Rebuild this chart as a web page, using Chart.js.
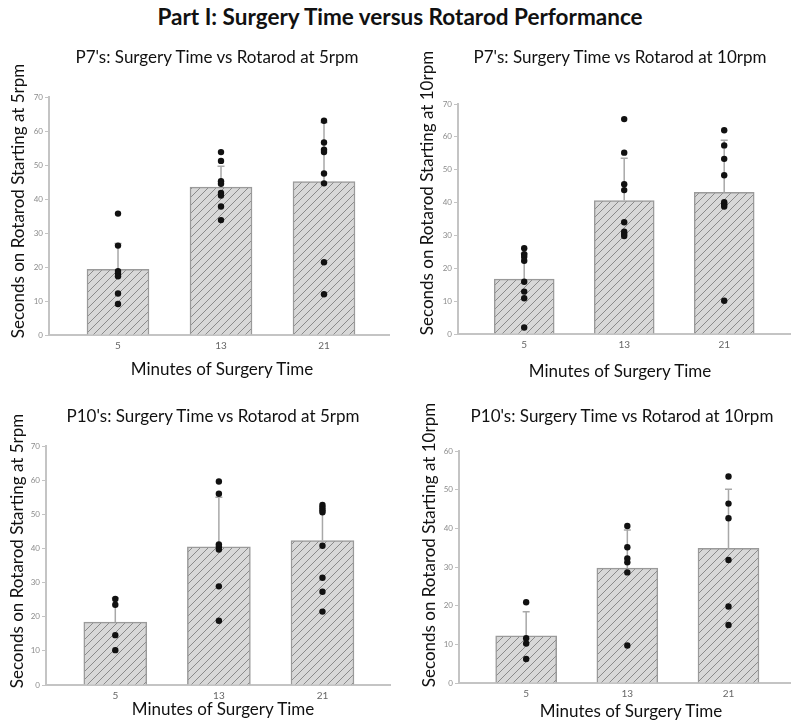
<!DOCTYPE html>
<html>
<head>
<meta charset="utf-8">
<script src="https://cdn.jsdelivr.net/npm/chart.js@4.4.1/dist/chart.umd.min.js"></script>
<style>
  html, body { margin: 0; padding: 0; background: #fff; }
  body { width: 800px; height: 726px; position: relative; overflow: hidden; font-family: Lato, "Open Sans", sans-serif; }
  canvas { position: absolute; }
  .txt { position: absolute; white-space: nowrap; color: #111; line-height: 1; transform: translate(-50%, -50%); }
  .main { font-weight: bold; font-size: 22.5px; }
  .sub { font-size: 17px; }
  .axt { font-size: 17px; }
  .rot { transform: translate(-50%, -50%) rotate(-90deg); }
</style>
</head>
<body>
<div class="txt main" style="left:400px; top:17px;">Part I: Surgery Time versus Rotarod Performance</div>

<canvas id="p7r5" width="400" height="320" style="left:0; top:60px;"></canvas>
<canvas id="p7r10" width="400" height="320" style="left:400px; top:60px;"></canvas>
<canvas id="p10r5" width="400" height="306" style="left:0; top:420px;"></canvas>
<canvas id="p10r10" width="400" height="306" style="left:400px; top:420px;"></canvas>

<div class="txt sub" style="left:217px; top:56px;">P7's: Surgery Time vs Rotarod at 5rpm</div>
<div class="txt sub" style="left:620px; top:56px;">P7's: Surgery Time vs Rotarod at 10rpm</div>
<div class="txt sub" style="left:213px; top:415px;">P10's: Surgery Time vs Rotarod at 5rpm</div>
<div class="txt sub" style="left:622px; top:415px;">P10's: Surgery Time vs Rotarod at 10rpm</div>

<div class="txt axt rot" style="left:17px; top:201px;">Seconds on Rotarod Starting at 5rpm</div>
<div class="txt axt rot" style="left:426px; top:193px;">Seconds on Rotarod Starting at 10rpm</div>
<div class="txt axt rot" style="left:16px; top:551px;">Seconds on Rotarod Starting at 5rpm</div>
<div class="txt axt rot" style="left:428px; top:545px;">Seconds on Rotarod Starting at 10rpm</div>

<div class="txt axt" style="left:222px; top:368px;">Minutes of Surgery Time</div>
<div class="txt axt" style="left:620px; top:370px;">Minutes of Surgery Time</div>
<div class="txt axt" style="left:223px; top:708px;">Minutes of Surgery Time</div>
<div class="txt axt" style="left:631px; top:710px;">Minutes of Surgery Time</div>

<script>
const minutes = ['5', '13', '21'];

// P7's, 5rpm
const p7Rpm5Means = [19.3, 43.5, 45.1];
const p7Rpm5Upper = [26.9, 49.6, 62.5];
const p7Rpm5Points = [
    [35.7, 26.3, 18.8, 18.1, 17.3, 12.2, 9.1],
    [53.8, 51.2, 45.2, 44.5, 41.8, 41.0, 37.8, 33.8],
    [63.0, 56.6, 54.5, 53.8, 47.5, 44.6, 21.4, 12.0]
];

// P7's, 10rpm
const p7Rpm10Means = [16.7, 40.6, 43.1];
const p7Rpm10Upper = [24.5, 53.5, 59.0];
const p7Rpm10Points = [
    [26.1, 24.3, 23.5, 22.3, 15.9, 12.9, 10.9, 2.0],
    [65.4, 55.2, 45.6, 43.8, 34.0, 31.1, 30.4, 29.8],
    [62.0, 57.4, 53.3, 48.3, 40.1, 39.5, 38.8, 10.1]
];

// P10's, 5rpm
const p10Rpm5Means = [18.4, 40.5, 42.3];
const p10Rpm5Upper = [25.5, 55.0, 51.0];
const p10Rpm5Points = [
    [25.2, 23.5, 14.6, 10.2],
    [59.6, 56.0, 41.2, 40.5, 39.7, 28.9, 18.8],
    [52.7, 52.0, 51.3, 50.6, 40.8, 31.4, 27.3, 21.5]
];

// P10's, 10rpm
const p10Rpm10Means = [12.2, 29.7, 34.8];
const p10Rpm10Upper = [18.4, 39.6, 50.1];
const p10Rpm10Points = [
    [20.9, 11.6, 10.2, 6.2],
    [40.6, 35.1, 32.2, 31.2, 28.6, 9.7],
    [53.4, 46.4, 42.6, 31.8, 19.8, 15.0]
];

const yMaxP7 = 70;
const yMaxP10Rpm10 = 60;

function hatchPattern() {
    const c = document.createElement('canvas');
    c.width = 8; c.height = 8;
    const g = c.getContext('2d');
    g.fillStyle = '#d8d8d8';
    g.fillRect(0, 0, 8, 8);
    g.strokeStyle = '#8a8a8a';
    g.lineWidth = 1;
    g.beginPath();
    g.moveTo(0, 8); g.lineTo(8, 0);
    g.moveTo(-1, 1); g.lineTo(1, -1);
    g.moveTo(7, 9); g.lineTo(9, 7);
    g.stroke();
    return g.createPattern(c, 'repeat');
}

// upper error bar drawn behind the dots
const errorBars = {
    id: 'errorBars',
    afterDatasetDraw(chart, args, opts) {
        if (args.index !== 0) return;
        const ctx = chart.ctx;
        const xs = chart.scales.x, ys = chart.scales.y;
        const bars = chart.data.datasets[0].data;
        ctx.save();
        ctx.strokeStyle = '#a8a8a8';
        ctx.lineWidth = 1.5;
        opts.upper.forEach((u, i) => {
            const x = xs.getPixelForValue(i);
            const y0 = ys.getPixelForValue(bars[i].y);
            const y1 = ys.getPixelForValue(u);
            ctx.beginPath();
            ctx.moveTo(x, y0); ctx.lineTo(x, y1);
            ctx.moveTo(x - 3.5, y1); ctx.lineTo(x + 3.5, y1);
            ctx.stroke();
        });
        ctx.restore();
    }
};

function makePanel(id, means, upper, points, yMax, box) {
    const canvas = document.getElementById(id);
    const cx = parseFloat(canvas.style.left), cy = parseFloat(canvas.style.top);
    const yWidth = box.left - cx;
    const xHeight = cy + canvas.height - box.bottom;
    const dots = [];
    points.forEach((grp, i) => grp.forEach(v => dots.push({ x: i, y: v })));

    new Chart(canvas, {
        type: 'bar',
        data: {
            datasets: [{
                data: means.map((m, i) => ({ x: i, y: m })),
                backgroundColor: hatchPattern(),
                borderColor: '#9a9a9a',
                borderWidth: 1.5,
                barThickness: box.barWidth,
                order: 2
            }, {
                type: 'scatter',
                data: dots,
                pointRadius: 3.2,
                pointBackgroundColor: '#111',
                pointBorderWidth: 0,
                order: 1
            }]
        },
        plugins: [errorBars],
        options: {
            responsive: false,
            animation: false,
            layout: { padding: { left: 0, top: box.top - cy, right: cx + canvas.width - box.right, bottom: 0 } },
            plugins: {
                legend: { display: false },
                tooltip: { enabled: false },
                errorBars: { upper: upper }
            },
            scales: {
                x: {
                    type: 'linear',
                    offset: false,
                    min: box.xMin,
                    max: box.xMax,
                    grid: { display: false, drawTicks: false, offset: false },
                    border: { color: '#c4c4c4', width: 2 },
                    afterBuildTicks: s => { s.ticks = minutes.map((_, i) => ({ value: i })); },
                    afterFit: s => { s.height = xHeight; s.paddingLeft = 0; s.paddingRight = 0; },
                    ticks: {
                        padding: 5,
                        color: '#666',
                        font: { family: 'Lato', size: 10 },
                        callback: v => minutes[v]
                    }
                },
                y: {
                    min: 0,
                    max: yMax,
                    grid: { drawOnChartArea: false, drawTicks: true, tickLength: 4, color: '#c4c4c4' },
                    border: { color: '#c4c4c4', width: 2 },
                    afterFit: s => { s.width = yWidth; s.paddingTop = 0; s.paddingBottom = 0; },
                    ticks: {
                        stepSize: 10,
                        padding: 2,
                        color: '#8c8c8c',
                        font: { family: 'Lato', size: 8 }
                    }
                }
            }
        }
    });
}

makePanel('p7r5', p7Rpm5Means, p7Rpm5Upper, p7Rpm5Points, yMaxP7,
    { left: 49, top: 97, right: 389, bottom: 335, xMin: -0.670, xMax: 2.631, barWidth: 62 });
makePanel('p7r10', p7Rpm10Means, p7Rpm10Upper, p7Rpm10Points, yMaxP7,
    { left: 458, top: 104, right: 790, bottom: 334, xMin: -0.662, xMax: 2.658, barWidth: 60 });
makePanel('p10r5', p10Rpm5Means, p10Rpm5Upper, p10Rpm5Points, yMaxP7,
    { left: 46, top: 446, right: 390, bottom: 685, xMin: -0.669, xMax: 2.652, barWidth: 63 });
makePanel('p10r10', p10Rpm10Means, p10Rpm10Upper, p10Rpm10Points, yMaxP10Rpm10,
    { left: 459, top: 451, right: 790, bottom: 683, xMin: -0.664, xMax: 2.608, barWidth: 61 });
</script>
</body>
</html>
